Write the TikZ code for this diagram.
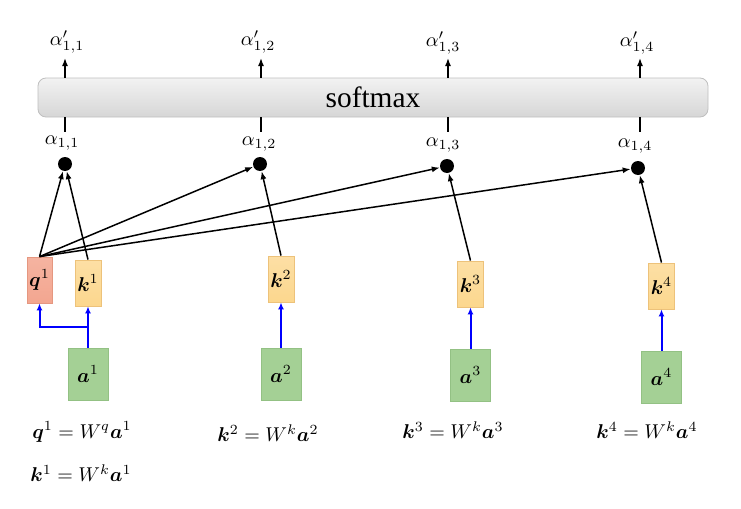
\documentclass[tikz,border=0pt]{standalone}
\usepackage{amsmath}
\usepackage{bm}
\usepackage{fontspec}
\newfontfamily\timesfont{Liberation Serif}
\usetikzlibrary{arrows.meta}

\definecolor{qfill}{HTML}{F3A690}
\definecolor{qline}{HTML}{E59780}
\definecolor{kfill}{HTML}{FCD78E}
\definecolor{kline}{HTML}{EDC27A}
\definecolor{afill}{HTML}{A4D095}
\definecolor{aline}{HTML}{93C184}

\tikzset{
    qbox/.style={draw=qline,top color=qfill!85,bottom color=qfill,minimum width=12.5pt,minimum height=23pt,inner sep=0pt},
    kbox/.style={draw=kline,top color=kfill!80,bottom color=kfill,minimum width=13pt,minimum height=23pt,inner sep=0pt},
    abox/.style={draw=aline,fill=afill,minimum width=20pt,minimum height=26pt,inner sep=0pt},
    dot/.style={circle,fill=black,minimum size=7pt,inner sep=0pt},
    link/.style={-{Latex[length=4pt,width=3pt]},line width=0.75pt},
    feed/.style={-{Latex[length=3.5pt,width=3pt]},blue,line width=1pt}
}

\begin{document}
\begin{tikzpicture}[x=0.5pt,y=-0.5pt]
                \useasboundingbox (0,0) rectangle (741,509);

                \node[draw=gray!50,top color=gray!10,bottom color=gray!32,rounded corners=4pt,
                    minimum width=335pt,minimum height=19.5pt,inner sep=0pt] (soft) at (373,97.5)
                    {\timesfont\fontsize{14.7}{17}\selectfont softmax};

                \node[dot] (d1) at (65,164) {};
                \node[dot] (d2) at (260,164) {};
                \node[dot] (d3) at (447,166) {};
                \node[dot] (d4) at (638,168) {};

                \node (s1) at (62,143) {$\alpha_{1,1}$};
                \node (s2) at (259,144) {$\alpha_{1,2}$};
                \node (s3) at (443,145) {$\alpha_{1,3}$};
                \node (s4) at (635,146) {$\alpha_{1,4}$};

                \node (t1) at (67,42) {$\alpha'_{1,1}$};
                \node (t2) at (258,42) {$\alpha'_{1,2}$};
                \node (t3) at (443,43) {$\alpha'_{1,3}$};
                \node (t4) at (637,43) {$\alpha'_{1,4}$};

                \coordinate (u1) at (65,58);
                \coordinate (u2) at (261,58);
                \coordinate (u3) at (448,58);
                \coordinate (u4) at (640,58);
                \coordinate (v1) at (65,132);
                \coordinate (v2) at (261,132);
                \coordinate (v3) at (448,132);
                \coordinate (v4) at (640,132);

                \foreach \i in {1,...,4}{
                    \draw[link] (soft.north -| u\i) -- (u\i);
                    \draw[line width=0.75pt] (soft.south -| v\i) -- (v\i);
                }

                \node[qbox] (q1) at (39.5,280) {$\bm{q}^1$};
                \node[kbox] (k1) at (88,283) {$\bm{k}^1$};
                \node[kbox] (k2) at (281,279) {$\bm{k}^2$};
                \node[kbox] (k3) at (470.5,284) {$\bm{k}^3$};
                \node[kbox] (k4) at (661.5,286) {$\bm{k}^4$};

                \node[abox] (a1) at (88,374) {$\bm{a}^1$};
                \node[abox] (a2) at (281,374) {$\bm{a}^2$};
                \node[abox] (a3) at (470.5,375) {$\bm{a}^3$};
                \node[abox] (a4) at (661.5,377) {$\bm{a}^4$};

                \foreach \i in {1,...,4}{
                    \draw[link] (q1.north) -- (d\i);
                    \draw[link] (k\i.north) -- (d\i);
                    \draw[feed] (a\i.north) -- (k\i.south);
                }
                \coordinate (split) at (88,327);
                \draw[feed] (split) -| (q1.south);

                \node (e1) at (82,432) {$\bm{q}^1 = W^q\bm{a}^1$};
                \node (e2) at (81,473) {$\bm{k}^1 = W^k\bm{a}^1$};
                \node (e3) at (268,433) {$\bm{k}^2 = W^k\bm{a}^2$};
                \node (e4) at (453,430) {$\bm{k}^3 = W^k\bm{a}^3$};
                \node (e5) at (647,430) {$\bm{k}^4 = W^k\bm{a}^4$};
            \end{tikzpicture}
\end{document}
